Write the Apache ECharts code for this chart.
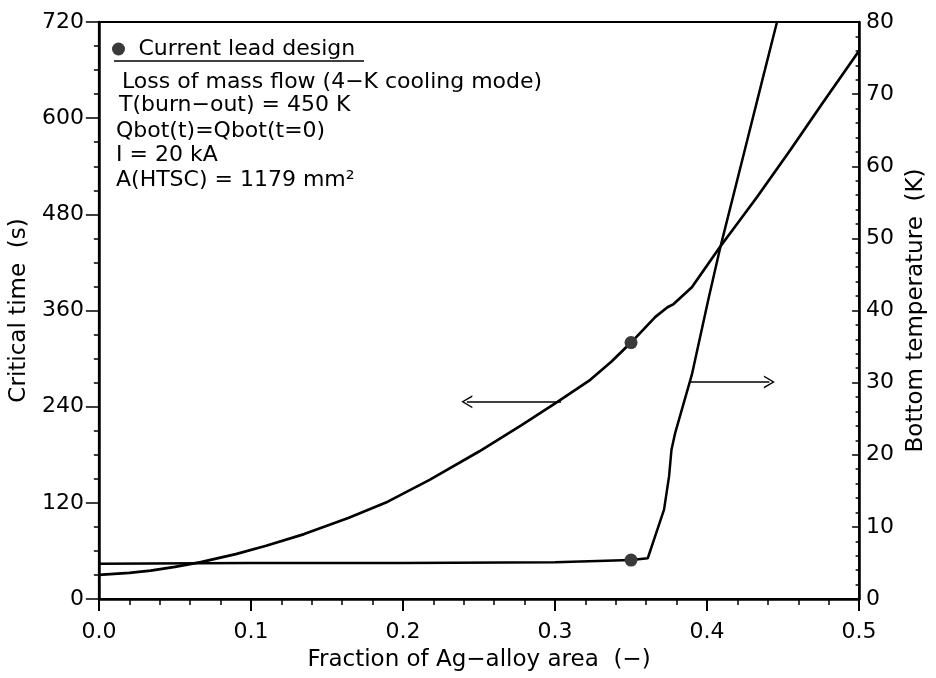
<!DOCTYPE html>
<html>
<head>
<meta charset="utf-8">
<script src="https://cdn.jsdelivr.net/npm/echarts@6/dist/echarts.min.js"></script>
<style>
html,body{margin:0;padding:0;background:#fff;}
#chart{width:936px;height:678px;}
</style>
</head>
<body>
<div id="chart"></div>
<script>
// Fraction of Ag-alloy area vs critical time (left axis)
const fracTime = [0, 0.02, 0.034, 0.05, 0.067, 0.09, 0.11, 0.135, 0.164, 0.19, 0.2175, 0.25, 0.278, 0.3016, 0.3232, 0.337, 0.35, 0.366, 0.374, 0.378, 0.39, 0.408, 0.433, 0.455, 0.476, 0.5];
const critTime = [30, 32.5, 35.4, 40, 46, 56, 66.5, 81, 101, 121.5, 148.6, 184, 217, 246, 273.5, 296, 320, 352, 364, 368, 389, 438, 502, 561, 619, 684];
// Fraction vs bottom temperature (right axis)
const fracTemp = [0, 0.1, 0.2, 0.3, 0.35, 0.361, 0.3717, 0.375, 0.3766, 0.379, 0.39, 0.4008, 0.4083, 0.4244, 0.437, 0.446];
const bottomTemp = [4.9, 5.0, 5.0, 5.1, 5.4, 5.65, 12.4, 17, 20.7, 23, 31.1, 41.5, 48.4, 61.9, 72.5, 80];
// Current lead design point
const designFrac = 0.35;
const designTime = 320;
const designTemp = 5.4;
// Arrow annotations (data coordinates)
const arrowLeft = { from: [0.304, 246], to: [0.242, 246] };
const arrowRight = { from: [0.389, 30.1], to: [0.441, 30.1] };
// Text
const legendName = 'Current lead design';
const infoLines = [
  'Loss of mass flow (4\u2212K cooling mode)',
  'T(burn\u2212out) = 450 K',
  'Qbot(t)=Qbot(t=0)',
  'I = 20 kA',
  'A(HTSC) = 1179 mm\u00B2'
];
const xName = 'Fraction of Ag\u2212alloy area  (\u2212)';
const yLeftName = 'Critical time  (s)';
const yRightName = 'Bottom temperature  (K)';

const FONT = 'DejaVu Sans';
const chevron = 'path://M0,11 L6.5,0 L13,11 L11.4,11 L6.5,2.6 L1.6,11 Z';

const chart = echarts.init(document.getElementById('chart'), null, {renderer: 'canvas'});

const timeData = fracTime.map((x, i) => [x, critTime[i]]);
const tempData = fracTemp.map((x, i) => [x, bottomTemp[i]]);

const infoX = [122, 119, 116, 116, 116];
const infoY = [84, 107, 133, 157, 182];

const option = {
  animation: false,
  backgroundColor: '#fff',
  textStyle: {fontFamily: FONT, color: '#000'},
  grid: {left: 97, right: 66, top: 22, bottom: 79, show: true, borderColor: '#000', borderWidth: 2},
  legend: {
    left: 107, top: 33,
    itemWidth: 30, itemHeight: 13, itemGap: 0,
    data: [{name: legendName, icon: 'circle'}],
    textStyle: {fontFamily: FONT, fontSize: 22, color: '#000'}
  },
  xAxis: {
    type: 'value', min: 0, max: 0.5, interval: 0.1,
    name: xName, nameLocation: 'middle', nameGap: 50,
    nameTextStyle: {fontFamily: FONT, fontSize: 23, color: '#000'},
    axisLine: {show: true, lineStyle: {color: '#000', width: 2.5}},
    axisTick: {show: true, length: 12, lineStyle: {color: '#000', width: 2}},
    minorTick: {show: true, splitNumber: 5, length: 6, lineStyle: {color: '#000', width: 1.5}},
    splitLine: {show: false},
    axisLabel: {margin: 22, fontFamily: FONT, fontSize: 22, color: '#000', formatter: v => v.toFixed(1)}
  },
  yAxis: [{
    type: 'value', min: 0, max: 720, interval: 120, position: 'left',
    name: yLeftName, nameLocation: 'middle', nameGap: 63,
    nameTextStyle: {fontFamily: FONT, fontSize: 23, color: '#000'},
    axisLine: {show: true, lineStyle: {color: '#000', width: 2.5}},
    axisTick: {show: true, length: 13, lineStyle: {color: '#000', width: 1.5}},
    minorTick: {show: true, splitNumber: 4, length: 5, lineStyle: {color: '#000', width: 1.5}},
    splitLine: {show: false},
    axisLabel: {margin: 15, fontFamily: FONT, fontSize: 22, color: '#000'}
  }, {
    type: 'value', min: 0, max: 80, interval: 10, position: 'right',
    name: yRightName, nameLocation: 'middle', nameGap: 38,
    nameTextStyle: {fontFamily: FONT, fontSize: 23, color: '#000'},
    axisLine: {show: true, lineStyle: {color: '#000', width: 2.5}},
    axisTick: {show: true, inside: true, length: 7, lineStyle: {color: '#000', width: 1.5}},
    minorTick: {show: true, splitNumber: 5, length: 3.5, lineStyle: {color: '#000', width: 1.5}},
    splitLine: {show: false},
    axisLabel: {margin: 7, fontFamily: FONT, fontSize: 22, color: '#000'}
  }],
  series: [{
    type: 'line', name: 'Critical time', yAxisIndex: 0, data: timeData,
    symbol: 'none', smooth: false,
    lineStyle: {color: '#000', width: 2.7},
    markLine: {
      silent: true, symbol: ['none', chevron], symbolSize: [13, 11],
      label: {show: false},
      lineStyle: {color: '#000', width: 1.5, type: 'solid'},
      data: [[{coord: arrowLeft.from}, {coord: arrowLeft.to}]]
    }
  }, {
    type: 'line', name: 'Bottom temperature', yAxisIndex: 1, data: tempData,
    symbol: 'none', smooth: false,
    lineStyle: {color: '#000', width: 2.5},
    markLine: {
      silent: true, symbol: ['none', chevron], symbolSize: [13, 11],
      label: {show: false},
      lineStyle: {color: '#000', width: 1.5, type: 'solid'},
      data: [[{coord: arrowRight.from}, {coord: arrowRight.to}]]
    }
  }, {
    type: 'scatter', name: legendName, yAxisIndex: 0,
    data: [[designFrac, designTime]], symbol: 'circle', symbolSize: 13,
    itemStyle: {color: '#3a3a3a', opacity: 1}, z: 5
  }, {
    type: 'scatter', name: legendName, yAxisIndex: 1,
    data: [[designFrac, designTemp]], symbol: 'circle', symbolSize: 13,
    itemStyle: {color: '#3a3a3a', opacity: 1}, z: 5
  }],
  graphic: [
    {type: 'line', shape: {x1: 114, y1: 61, x2: 364, y2: 61}, style: {stroke: '#000', lineWidth: 1.5}}
  ].concat(infoLines.map((t, i) => ({
    type: 'text', left: infoX[i], top: infoY[i] - 13,
    style: {text: t, font: '22px "' + FONT + '"', fill: '#000'}
  })))
};
chart.setOption(option);
</script>
</body>
</html>
